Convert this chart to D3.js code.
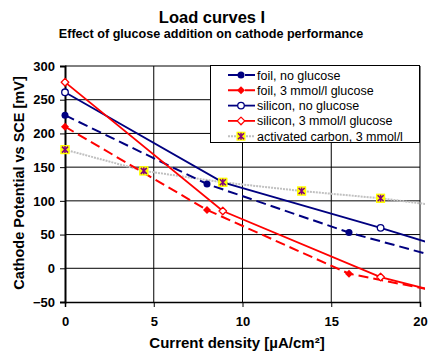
<!DOCTYPE html>
<html><head><meta charset="utf-8">
<script src="https://cdn.jsdelivr.net/npm/d3@7/dist/d3.min.js"></script>
<style>body{margin:0;background:#fff}svg{display:block;font-family:"Liberation Sans",Arial,sans-serif}</style>
</head><body><svg id="c" width="429" height="356"></svg>
<script>
const titleText = "Load curves I";
const subtitleText = "Effect of glucose addition on cathode performance";
const xLabel = "Current density [µA/cm²]";
const yLabel = "Cathode Potential vs SCE [mV]";
const xTicks = [0, 5, 10, 15, 20];
const yTicks = [-50, 0, 50, 100, 150, 200, 250, 300];

const seriesNames = ["foil, no glucose", "foil, 3 mmol/l glucose", "silicon, no glucose", "silicon, 3 mmol/l glucose", "activated carbon, 3 mmol/l"];
const foilNoX = [0, 8, 16, 24];
const foilNoY = [227, 125, 53, -5];
const foil3X = [0, 8, 16, 24];
const foil3Y = [210, 86.5, -8, -50];
const silNoX = [0, 8.89, 17.78, 22.22];
const silNoY = [261, 127.5, 60, 24];
const sil3X = [0, 8.89, 17.78, 22.22];
const sil3Y = [276, 85, -13, -43];
const carbX = [0, 4.44, 8.89, 13.33, 17.78, 22.22];
const carbY = [176, 144.5, 127.5, 114.6, 103.8, 89];

const L = 65, R = 420, T = 66, B = 302;
const x = d3.scaleLinear().domain([0, 20]).range([L, R]);
const y = d3.scaleLinear().domain([-50, 300]).range([B, T]);
const svg = d3.select("#c");

// titles
svg.append("text").attr("x", 212).attr("y", 23).attr("text-anchor", "middle")
  .attr("font-weight", "bold").attr("font-size", "16.5px").text(titleText);
svg.append("text").attr("x", 211).attr("y", 38).attr("text-anchor", "middle")
  .attr("font-weight", "bold").attr("font-size", "12.6px").text(subtitleText);

// grid
const g = svg.append("g");
g.selectAll("line.hg").data(yTicks.filter(v => v > -50)).enter().append("line")
  .attr("x1", L).attr("x2", R).attr("y1", d => y(d)).attr("y2", d => y(d))
  .attr("stroke", "#000").attr("stroke-width", 1);
g.selectAll("line.vg").data(xTicks.filter(v => v > 0)).enter().append("line")
  .attr("y1", T).attr("y2", B).attr("x1", d => x(d)).attr("x2", d => x(d))
  .attr("stroke", "#000").attr("stroke-width", 1);

// axes
const yAxis = d3.axisLeft(y).tickValues(yTicks).tickSize(5).tickPadding(5).tickFormat(d3.format("d"));
const ya = svg.append("g").attr("transform", `translate(${L},0)`).call(yAxis);
ya.select(".domain").attr("stroke-width", 2);
ya.selectAll("text").attr("font-weight", "bold").attr("font-size", "13px").attr("font-family", "Liberation Sans, Arial, sans-serif").attr("fill", "#000");
const xAxis = d3.axisBottom(x).tickValues(xTicks).tickSize(5).tickPadding(10);
const xa = svg.append("g").attr("transform", `translate(0,${B})`).call(xAxis);
xa.select(".domain").attr("stroke-width", 1.5);
xa.selectAll("text").attr("font-weight", "bold").attr("font-size", "13px").attr("font-family", "Liberation Sans, Arial, sans-serif").attr("fill", "#000");

svg.append("text").attr("x", 237).attr("y", 348).attr("text-anchor", "middle")
  .attr("font-weight", "bold").attr("font-size", "15px").text(xLabel);
svg.append("text").attr("transform", "translate(24,183) rotate(-90)").attr("text-anchor", "middle")
  .attr("font-weight", "bold").attr("font-size", "14.5px").text(yLabel);

// clip
svg.append("defs").append("clipPath").attr("id", "clip").append("rect")
  .attr("x", L).attr("y", T - 5).attr("width", R - L + 5).attr("height", B - T + 5);

const series = [
  {name: seriesNames[4], xs: carbX, ys: carbY, color: "#C0C0C0", dash: "2,1", w: 2, marker: "star"},
  {name: seriesNames[0], xs: foilNoX, ys: foilNoY, color: "#000080", dash: "10,5", w: 2, marker: "dot"},
  {name: seriesNames[1], xs: foil3X, ys: foil3Y, color: "#FF0000", dash: "10,5", w: 2, marker: "diamond"},
  {name: seriesNames[2], xs: silNoX, ys: silNoY, color: "#000080", dash: null, w: 1.8, marker: "ocircle"},
  {name: seriesNames[3], xs: sil3X, ys: sil3Y, color: "#FF0000", dash: null, w: 1.8, marker: "odiamond"},
];
const order = [1, 2, 3, 4, 0];

const line = d3.line().x(d => x(d[0])).y(d => y(d[1]));
const lines = svg.append("g").attr("clip-path", "url(#clip)");
const marks = svg.append("g");

function drawMarker(sel, type, color, cx, cy) {
  if (type === "dot") {
    sel.append("circle").attr("cx", cx).attr("cy", cy).attr("r", 3.5).attr("fill", color);
  } else if (type === "ocircle") {
    sel.append("circle").attr("cx", cx).attr("cy", cy).attr("r", 3.3).attr("fill", "#fff").attr("stroke", color).attr("stroke-width", 1.3);
  } else if (type === "diamond") {
    sel.append("path").attr("d", `M${cx},${cy-4}L${cx+4},${cy}L${cx},${cy+4}L${cx-4},${cy}Z`).attr("fill", color);
  } else if (type === "odiamond") {
    sel.append("path").attr("d", `M${cx},${cy-3.8}L${cx+3.8},${cy}L${cx},${cy+3.8}L${cx-3.8},${cy}Z`).attr("fill", "#fff").attr("stroke", color).attr("stroke-width", 1.3).attr("stroke-linejoin", "round");
  } else if (type === "star") {
    sel.append("rect").attr("x", cx - 4.5).attr("y", cy - 4.5).attr("width", 9).attr("height", 9).attr("fill", "#FFFF00");
    sel.append("path").attr("d", `M${cx-3},${cy-3}L${cx+3},${cy+3}M${cx+3},${cy-3}L${cx-3},${cy+3}M${cx},${cy-3.5}L${cx},${cy+3.5}`)
      .attr("stroke", "#800080").attr("stroke-width", 1.5).attr("fill", "none");
  }
}

series.forEach(s => {
  const pts = s.xs.map((v, i) => [v, s.ys[i]]);
  const p = lines.append("path").datum(pts).attr("d", line).attr("fill", "none")
    .attr("stroke", s.color).attr("stroke-width", s.w);
  if (s.dash) p.attr("stroke-dasharray", s.dash);
  pts.filter(d => d[0] <= 20).forEach(d => drawMarker(marks, s.marker, s.color, x(d[0]), y(d[1])));
});
// carbon markers on top
series[0].xs.forEach((v, i) => { if (v <= 20) drawMarker(marks, "star", "#C0C0C0", x(v), y(series[0].ys[i])); });

// legend
const lg = svg.append("g");
lg.append("rect").attr("x", 210.5).attr("y", 65.5).attr("width", 209).attr("height", 77)
  .attr("fill", "#fff").attr("stroke", "#000").attr("stroke-width", 1);
order.forEach((si, i) => {
  const s = series[si];
  const yy = 75 + i * 15.3;
  const ln = lg.append("line").attr("x1", 228).attr("x2", 255).attr("y1", yy).attr("y2", yy)
    .attr("stroke", s.color).attr("stroke-width", s.w);
  if (s.dash) ln.attr("stroke-dasharray", s.dash === "10,5" ? "13,4,10" : s.dash);
  drawMarker(lg, s.marker, s.color, 241, yy);
  lg.append("text").attr("x", 257).attr("y", yy + 4.5).attr("font-size", "12.5px").text(s.name);
});
</script></body></html>
